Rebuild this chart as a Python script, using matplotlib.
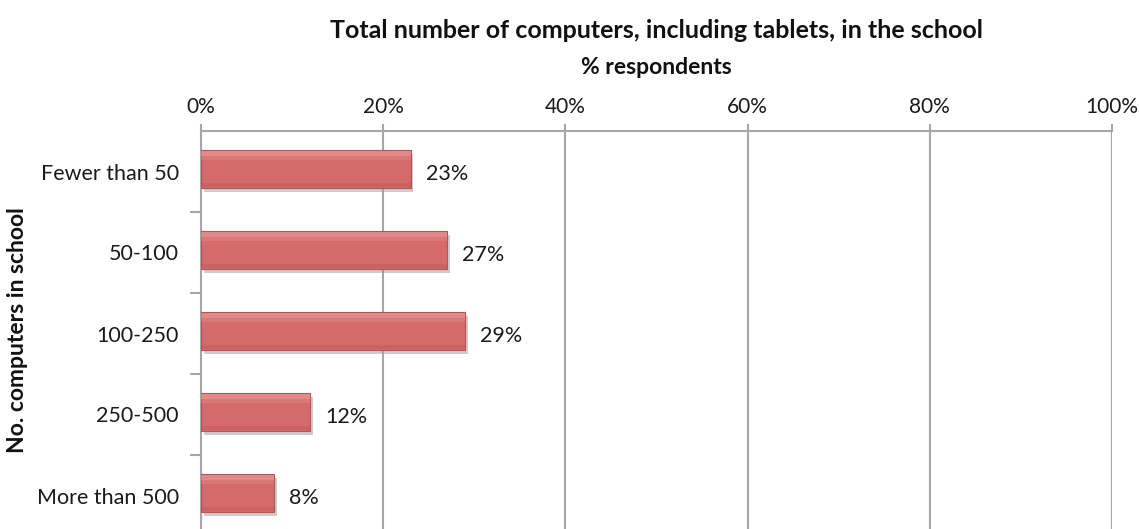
import matplotlib
matplotlib.use("Agg")
import matplotlib.pyplot as plt
import matplotlib.patheffects as pe
from matplotlib.ticker import PercentFormatter

plt.rcParams['font.family'] = ['Lato', 'DejaVu Sans']

categories = ["Fewer than 50", "50-100", "100-250", "250-500", "More than 500"]
values = [23, 27, 29, 12, 8]
xticks = [0, 20, 40, 60, 80, 100]

title = "Total number of computers, including tablets, in the school"
subtitle = "% respondents"
ylabel = "No. computers in school"

bar_color = "#d46a6a"
edge_color = "#b55656"
grid_color = "#a6a6a6"

fig = plt.figure(figsize=(11.4, 5.29), dpi=100)
ax = fig.add_axes([201 / 1140, -7 / 529, 911 / 1140, 405 / 529])

ypos = list(range(len(categories)))
# bars sit a touch above the middle of their band
bar_y = [y - 0.03 for y in ypos]
bars = ax.barh(bar_y, values, height=0.47, color=bar_color, edgecolor=edge_color,
               linewidth=0.8, zorder=3,
               path_effects=[pe.SimplePatchShadow(offset=(2, -3), shadow_rgbFace="#9a9a9a", alpha=0.5),
                             pe.Normal()])
# soft light rim on top and darker rim at the bottom of each bar
for off, h, col, a in [(-0.19, 0.06, "#f4b0b0", 0.45), (-0.14, 0.05, "#eea0a0", 0.25),
                       (0.2, 0.05, "#a94c4c", 0.25)]:
    ax.barh([y + off for y in bar_y], values, height=h, color=col, alpha=a,
            linewidth=0, zorder=4)

for y, v in zip(bar_y, values):
    ax.annotate(f"{v}%", (v, y), xytext=(11, -3.5), textcoords="offset points",
                va="center", ha="left", fontsize=15.5, color="#1a1a1a")

ax.set_xlim(0, 100)
ax.set_ylim(len(categories) - 0.5, -0.5)
ax.set_xticks(xticks)
ax.xaxis.set_major_formatter(PercentFormatter(decimals=0))
ax.xaxis.tick_top()
ax.set_yticks(ypos)
ax.set_yticklabels(categories)
ax.set_yticks([y + 0.5 for y in ypos[:-1]], minor=True)
ax.tick_params(axis='y', which='major', length=0, pad=16, labelsize=15.5, labelcolor="#1a1a1a")
ax.tick_params(axis='y', which='minor', length=8, width=1.5, color=grid_color, direction='out')
ax.tick_params(axis='x', length=5, width=1.5, color=grid_color, pad=5, labelsize=15,
               labelcolor="#1a1a1a")

ax.grid(axis='x', color=grid_color, linewidth=1.5, zorder=0)
ax.set_axisbelow(True)
for side in ("right", "bottom"):
    ax.spines[side].set_visible(False)
for side in ("left", "top"):
    ax.spines[side].set_color(grid_color)
    ax.spines[side].set_linewidth(1.5)

fig.text(656 / 1140, 1 - 30 / 529, title, ha="center", va="center", fontsize=18,
         fontweight="bold", color="#111111")
fig.text(656 / 1140, 1 - 67 / 529, subtitle, ha="center", va="center", fontsize=16.5,
         fontweight="bold", color="#111111")
fig.text(18 / 1140, 1 - 330 / 529, ylabel, ha="center", va="center", rotation=90,
         fontsize=16.5, fontweight="bold", color="#111111")

fig.savefig("out.png", dpi=100, facecolor="white")
